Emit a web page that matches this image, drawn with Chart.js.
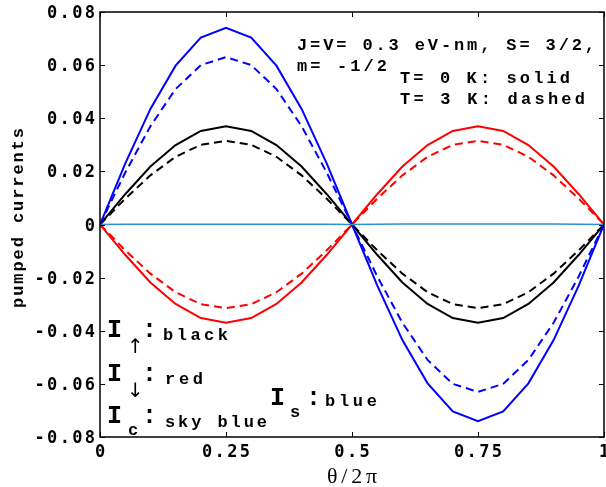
<!DOCTYPE html>
<html>
<head>
<meta charset="utf-8">
<script src="https://cdn.jsdelivr.net/npm/chart.js@4"></script>
<style>
  html, body { margin: 0; padding: 0; background: #fff; }
  #wrap { width: 606px; height: 487px; }
</style>
</head>
<body>
<div id="wrap"><canvas id="myChart" width="606" height="487"></canvas></div>
<script>
// theta / 2pi
const theta = [0, 0.05, 0.1, 0.15, 0.2, 0.25, 0.3, 0.35, 0.4, 0.45, 0.5,
               0.55, 0.6, 0.65, 0.7, 0.75, 0.8, 0.85, 0.9, 0.95, 1];

// T = 0 K (solid)
const upSolid   = [0, 0.0114, 0.0218, 0.0299, 0.0352, 0.0370, 0.0352, 0.0299, 0.0218, 0.0114, 0,
                   -0.0114, -0.0218, -0.0299, -0.0352, -0.0370, -0.0352, -0.0299, -0.0218, -0.0114, 0];
const downSolid = [0, -0.0114, -0.0218, -0.0299, -0.0352, -0.0370, -0.0352, -0.0299, -0.0218, -0.0114, 0,
                   0.0114, 0.0218, 0.0299, 0.0352, 0.0370, 0.0352, 0.0299, 0.0218, 0.0114, 0];
const spinSolid = [0, 0.0229, 0.0435, 0.0598, 0.0704, 0.0740, 0.0704, 0.0598, 0.0435, 0.0229, 0,
                   -0.0229, -0.0435, -0.0598, -0.0704, -0.0740, -0.0704, -0.0598, -0.0435, -0.0229, 0];
const chargeSolid = [0, 0.0001, 0.0001, 0.0001, 0.0001, 0.0001, 0.0001, 0.0001, 0.0001, 0.0001, 0,
                     0.0001, 0.0002, 0.0002, 0.0002, 0.0002, 0.0002, 0.0002, 0.0002, 0.0001, 0];

// T = 3 K (dashed)
const upDashed   = [0, 0.0097, 0.0185, 0.0255, 0.0300, 0.0315, 0.0300, 0.0255, 0.0185, 0.0097, 0,
                    -0.0097, -0.0185, -0.0255, -0.0300, -0.0315, -0.0300, -0.0255, -0.0185, -0.0097, 0];
const downDashed = [0, -0.0097, -0.0185, -0.0255, -0.0300, -0.0315, -0.0300, -0.0255, -0.0185, -0.0097, 0,
                    0.0097, 0.0185, 0.0255, 0.0300, 0.0315, 0.0300, 0.0255, 0.0185, 0.0097, 0];
const spinDashed = [0, 0.0195, 0.0370, 0.0510, 0.0600, 0.0630, 0.0600, 0.0510, 0.0370, 0.0195, 0,
                    -0.0195, -0.0370, -0.0510, -0.0600, -0.0630, -0.0600, -0.0510, -0.0370, -0.0195, 0];

const xTicks = [0, 0.25, 0.5, 0.75, 1];
const xTickLabels = ['0', '0.25', '0.5', '0.75', '1'];
const yTicks = [-0.08, -0.06, -0.04, -0.02, 0, 0.02, 0.04, 0.06, 0.08];
const yTickLabels = ['-0.08', '-0.06', '-0.04', '-0.02', '0', '0.02', '0.04', '0.06', '0.08'];

const MONO = '"Liberation Mono", "DejaVu Sans Mono", monospace';
const TICKFONT = 'bold 17px "DejaVu Sans Mono", monospace';

function pts(ys) {
  return theta.map((t, i) => ({ x: t, y: ys[i] }));
}

function series(ys, color, dashed, width) {
  return {
    data: pts(ys),
    borderColor: color,
    borderWidth: width || 2,
    borderDash: dashed ? [8, 5] : [],
    pointRadius: 0,
    fill: false,
    tension: 0
  };
}

// spread the letters of str so that it covers `span` pixels (old printed look)
function spread(ctx, str, x, y, span, align) {
  const chars = [...str];
  const widths = chars.map(c => ctx.measureText(c).width);
  const raw = widths.reduce((s, w) => s + w, 0);
  const sp = chars.length > 1 ? Math.max(0, (span - raw) / (chars.length - 1)) : 0;
  const total = raw + sp * (chars.length - 1);
  let cx = x;
  if (align === 'center') cx = x - total / 2;
  else if (align === 'right') cx = x - total;
  ctx.textAlign = 'left';
  chars.forEach((c, i) => {
    ctx.fillText(c, cx, y);
    cx += widths[i] + sp;
  });
}

// about 12.5 px per character for the tick labels
function tickSpan(s) { return s.length * 12.5 - 2; }

// inside tick marks, box, tick labels, titles and the annotation text
const decor = {
  id: 'decor',
  afterDraw(chart) {
    const ctx = chart.ctx;
    const a = chart.chartArea;
    const xs = chart.scales.x, ys = chart.scales.y;
    ctx.save();
    ctx.strokeStyle = '#000';
    ctx.lineWidth = 1;
    ctx.beginPath();
    xTicks.forEach(v => {
      const px = Math.round(xs.getPixelForValue(v)) + 0.5;
      ctx.moveTo(px, a.bottom); ctx.lineTo(px, a.bottom - 5);
      ctx.moveTo(px, a.top); ctx.lineTo(px, a.top + 5);
    });
    yTicks.forEach(v => {
      const py = Math.round(ys.getPixelForValue(v)) + 0.5;
      ctx.moveTo(a.left, py); ctx.lineTo(a.left + 5, py);
      ctx.moveTo(a.right, py); ctx.lineTo(a.right - 5, py);
    });
    ctx.stroke();
    ctx.lineWidth = 1.5;
    ctx.strokeRect(a.left, a.top, a.right - a.left, a.bottom - a.top);

    ctx.fillStyle = '#000';
    ctx.textBaseline = 'alphabetic';

    // tick labels
    ctx.font = TICKFONT;
    yTicks.forEach((v, i) => {
      const s = yTickLabels[i];
      spread(ctx, s, a.left - 5, ys.getPixelForValue(v) + 6, tickSpan(s), 'right');
    });
    xTicks.forEach((v, i) => {
      const s = xTickLabels[i];
      spread(ctx, s, xs.getPixelForValue(v), a.bottom + 20, tickSpan(s), 'center');
    });

    // axis titles
    ctx.font = '22px "Liberation Serif", serif';
    spread(ctx, '\u03b8/2\u03c0', 352, 483, 50, 'center');
    ctx.save();
    ctx.translate(23, 218);
    ctx.rotate(-Math.PI / 2);
    ctx.font = 'bold 17px ' + MONO;
    spread(ctx, 'pumped currents', 0, 0, 180, 'center');
    ctx.restore();

    ctx.font = 'bold 17px ' + MONO;
    spread(ctx, 'J=V= 0.3 eV-nm, S= 3/2,', 297, 50, 298, 'left');
    spread(ctx, 'm= -1/2', 297, 71, 90, 'left');
    spread(ctx, 'T= 0 K: solid', 400, 83, 170, 'left');
    spread(ctx, 'T= 3 K: dashed', 400, 104, 185, 'left');

    // legend-like labels
    const big = 'bold 25px ' + MONO;
    const small = 'bold 17px ' + MONO;
    const arrow = '20px "DejaVu Sans", sans-serif';
    ctx.textAlign = 'left';

    ctx.font = big; ctx.fillText('I', 107, 337);
    ctx.font = arrow; ctx.fillText('\u2191', 127, 353);
    ctx.font = big; ctx.fillText(':', 142, 337);
    ctx.font = small; spread(ctx, 'black', 163, 340, 65, 'left');

    ctx.font = big; ctx.fillText('I', 107, 381);
    ctx.font = arrow; ctx.fillText('\u2193', 127, 397);
    ctx.font = big; ctx.fillText(':', 142, 381);
    ctx.font = small; spread(ctx, 'red', 165, 384, 38, 'left');

    ctx.font = big; ctx.fillText('I', 107, 423);
    ctx.font = small; ctx.fillText('c', 128, 435);
    ctx.font = big; ctx.fillText(':', 142, 423);
    ctx.font = small; spread(ctx, 'sky blue', 165, 427, 102, 'left');

    ctx.font = big; ctx.fillText('I', 270, 405);
    ctx.font = small; ctx.fillText('s', 290, 417);
    ctx.font = big; ctx.fillText(':', 306, 405);
    ctx.font = small; spread(ctx, 'blue', 325, 406, 52, 'left');
    ctx.restore();
  }
};

new Chart('myChart', {
  type: 'line',
  data: {
    datasets: [
      series(chargeSolid, '#2a90d8', false, 1.5),
      series(spinSolid, '#0000ff', false),
      series(spinDashed, '#0000ff', true),
      series(upSolid, '#000000', false),
      series(upDashed, '#000000', true),
      series(downSolid, '#ff0000', false),
      series(downDashed, '#ff0000', true)
    ]
  },
  options: {
    responsive: false,
    animation: false,
    layout: { padding: { top: 12, right: 2, left: 0, bottom: 0 } },
    plugins: { legend: { display: false }, tooltip: { enabled: false } },
    scales: {
      x: {
        type: 'linear',
        min: 0, max: 1,
        afterBuildTicks(s) { s.ticks = xTicks.map(v => ({ value: v })); },
        afterFit(s) { s.height = 50; },
        grid: { display: false },
        border: { display: false },
        ticks: { display: false }
      },
      y: {
        min: -0.08, max: 0.08,
        afterBuildTicks(s) { s.ticks = yTicks.map(v => ({ value: v })); },
        afterFit(s) { s.width = 100; },
        grid: { display: false },
        border: { display: false },
        ticks: { display: false }
      }
    }
  },
  plugins: [decor]
});
</script>
</body>
</html>
